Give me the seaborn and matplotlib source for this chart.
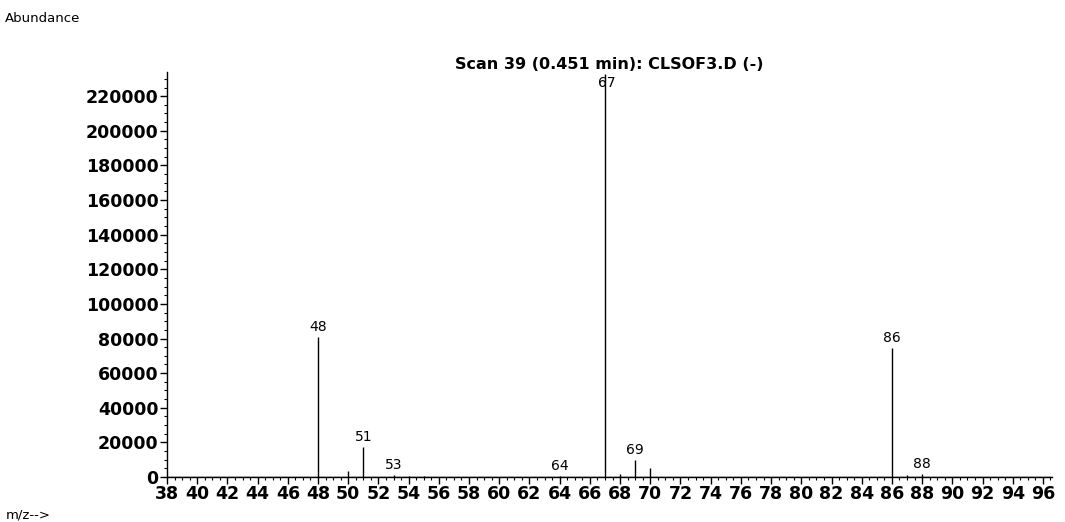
import matplotlib
matplotlib.use('Agg')

import matplotlib.pyplot as plt
import seaborn as sns
import pandas as pd
from matplotlib.ticker import MultipleLocator

# Mass spectrum peaks (m/z vs abundance)
mz = [48, 50, 51, 53, 54, 55, 64, 67, 68, 69, 70, 86, 87, 88]
abundance = [81000, 3500, 17500, 1200, 800, 500, 700, 233000, 1500, 10000, 5000, 74500, 1200, 2000]
labelled = [48, 51, 53, 64, 67, 69, 86, 88]

yticks = list(range(0, 240000, 20000))
xticks = list(range(38, 98, 2))

df = pd.DataFrame({'mz': mz, 'abundance': abundance})

sns.set_style('ticks')
plt.rcParams['font.family'] = ['DejaVu Sans']
plt.rcParams['text.color'] = 'black'
plt.rcParams['xtick.color'] = 'black'
plt.rcParams['ytick.color'] = 'black'
plt.rcParams['axes.edgecolor'] = 'black'

fig = plt.figure(figsize=(10.65, 5.22), dpi=100)
ax = fig.add_axes([0.1568, 0.0862, 0.831, 0.776])

ax.vlines(df['mz'], 0, df['abundance'], color='black', linewidth=1)
ax.axhline(0, color='black', linewidth=1)

ymax = 234000
ax.set_xlim(38, 96.6)
ax.set_ylim(0, ymax)

for m, a in zip(df['mz'], df['abundance']):
    if m not in labelled:
        continue
    if a > ymax * 0.95:
        ax.annotate(str(m), (m, ymax), xytext=(1, -3), textcoords='offset points',
                    ha='center', va='top', fontsize=10, color='black')
    else:
        ax.annotate(str(m), (m, a), xytext=(0, 2), textcoords='offset points',
                    ha='center', va='bottom', fontsize=10, color='black')

ax.set_xticks(xticks)
ax.set_xticklabels([str(x) for x in xticks])
ax.set_yticks(yticks)
ax.set_yticklabels([str(y) for y in yticks])
ax.xaxis.set_minor_locator(MultipleLocator(0.5))
ax.yaxis.set_minor_locator(MultipleLocator(5000))
ax.tick_params(axis='both', which='major', labelsize=12.5, length=5, width=1, pad=1,
               colors='black')
ax.tick_params(axis='both', which='minor', length=2.5, width=0.8, colors='black')
for lbl in ax.get_xticklabels() + ax.get_yticklabels():
    lbl.set_fontweight('bold')

sns.despine(ax=ax)
ax.spines['left'].set_linewidth(1)
ax.spines['bottom'].set_linewidth(1)

ax.set_title('Scan 39 (0.451 min): CLSOF3.D (-)', fontsize=11.5, fontweight='bold', pad=1,
             color='black')

fig.text(0.005, 0.965, 'Abundance', fontsize=9.5, ha='left', va='center', color='black')
fig.text(0.005, 0.013, 'm/z-->', fontsize=9.5, ha='left', va='center', color='black')

fig.savefig('out.png', dpi=100)
